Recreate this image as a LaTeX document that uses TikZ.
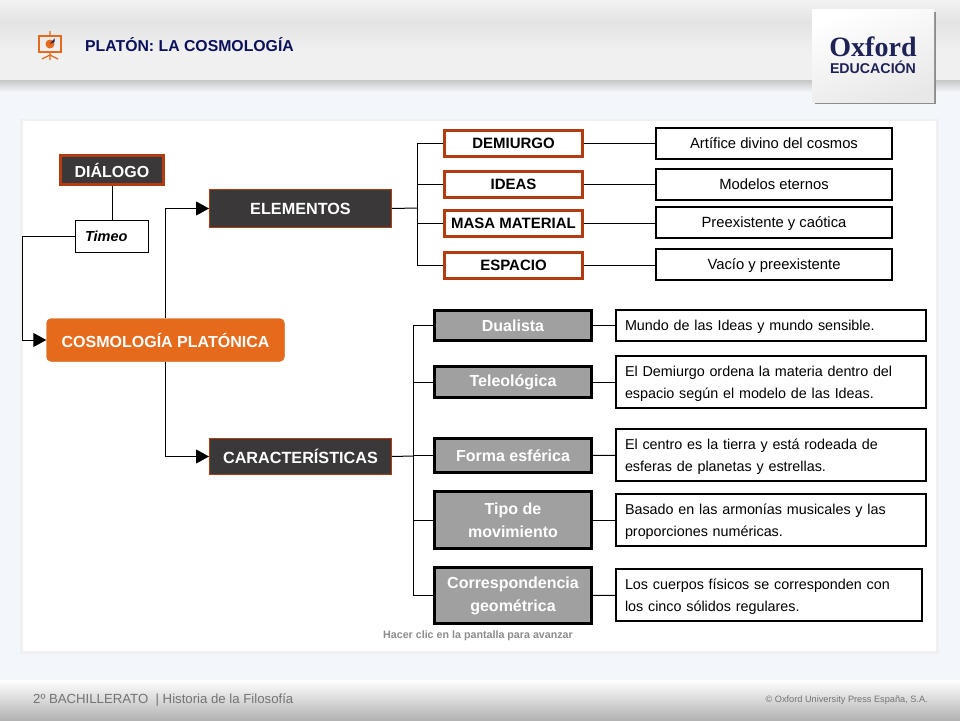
\documentclass[tikz,border=0pt]{standalone}
\usepackage{fontspec}
\setmainfont{Liberation Sans}
\newfontfamily\logofont{Liberation Serif}
\usepackage{tikz}
\usetikzlibrary{
    positioning,           % Relative positioning
    arrows.meta,           % Modern arrow tips
    calc                   % Coordinate calculations
}
\definecolor{PanelBlue}{RGB}{243,246,250}
\definecolor{BrickRed}{RGB}{178,60,16}
\definecolor{DarkBox}{RGB}{58,56,56}
\definecolor{OrangeBox}{RGB}{230,106,28}
\definecolor{GrayBox}{RGB}{160,160,160}
\definecolor{TitleBlue}{RGB}{10,16,90}
\definecolor{LogoBlue}{RGB}{30,34,84}
\tikzset{dialog box/.style={
    rectangle,
    draw=BrickRed,
    line width=3pt,
    fill=DarkBox,
    text=white,
    font=\bfseries\fontsize{16}{16}\selectfont,
    minimum width=103pt,
    minimum height=29pt,
    inner sep=0pt
}}
\tikzset{section box/.style={
    rectangle,
    draw=BrickRed,
    line width=1pt,
    fill=DarkBox,
    text=white,
    font=\bfseries\fontsize{16.2}{16.2}\selectfont,
    minimum width=182pt,
    inner sep=0pt
}}
\tikzset{element box/.style={
    rectangle,
    draw=BrickRed,
    line width=2.6pt,
    fill=white,
    text=black,
    font=\bfseries\fontsize{15}{15}\selectfont,
    minimum width=138.5pt,
    minimum height=26.5pt,
    inner sep=0pt
}}
\tikzset{trait box/.style={
    rectangle,
    draw=black,
    line width=3pt,
    fill=GrayBox,
    text=white,
    align=center,
    font=\bfseries\fontsize{16}{23}\selectfont,
    minimum width=157pt,
    inner sep=0pt
}}
\tikzset{text box/.style={
    rectangle,
    draw=black,
    line width=2pt,
    fill=white,
    text=black,
    text height=13pt,
    text depth=3pt,
    font=\fontsize{14.8}{14.8}\selectfont,
    inner sep=0pt
}}
\tikzset{note box/.style={
    rectangle,
    draw=black,
    line width=2pt,
    fill=white,
    text=black,
    align=left,
    text width=292pt,
    font=\fontsize{14.35}{22}\selectfont,
    execute at begin node={\rule{0pt}{13.5pt}},
    inner sep=0pt
}}
\tikzset{link/.style={draw=black, line width=1pt}}
\tikzset{link arrow/.style={link, -{Triangle[length=13pt,width=14pt]}}}
\begin{document}
\begin{tikzpicture}[x=1pt,y=-1pt]
    \useasboundingbox (0,0) rectangle (960,720);
    % page background
    \fill[PanelBlue] (0,0) rectangle (960,720);
    \shade[top color=black!22, bottom color=PanelBlue] (0,80) rectangle (960,92);
    \shade[top color=black!5, bottom color=black!11] (0,0) rectangle (960,22);
    \shade[top color=black!11, bottom color=black!6] (0,22) rectangle (960,50);
    \fill[black!6] (0,50) rectangle (960,80);
    \shade[top color=white, bottom color=black!30] (0,680) rectangle (960,720);
    \fill[black!6] (20,119) rectangle (939,654);
    \fill[white] (23,121) rectangle (936,651);
    % logo
    \fill[black!45] (815,12) rectangle (936,104);
    \shade[top color=white, bottom color=black!9, shading angle=20] (812,9) rectangle (934,102);
    \node[anchor=base, font=\logofont\bfseries\fontsize{28}{28}\selectfont, text=LogoBlue, inner sep=0pt] (oxfordname) at (873,56.5) {Oxford};
    \node[anchor=base, font=\bfseries\fontsize{14.2}{14.2}\selectfont, text=LogoBlue, inner sep=0pt] (oxfordsub) at (873,73) {EDUCACIÓN};
    % icon
    \draw[OrangeBox, line width=1.2pt] (39,36) rectangle (61,52);
    \draw[OrangeBox, line width=1.2pt] (50,31) -- (50,36) (50,52) -- (50,60) (42,59) -- (50,55) -- (58,59);
    \fill[OrangeBox] (50,44) circle (4.5pt);
    \fill[LogoBlue] (50,44) -- (54.5,42) arc (-24:24:4.5pt) -- cycle;
    % titles
    \node[anchor=west, font=\bfseries\fontsize{15.8}{15.8}\selectfont, text=TitleBlue, inner sep=0pt] (title) at (85,45) {PLATÓN: LA COSMOLOGÍA};
    \node[anchor=west, font=\fontsize{13.2}{13.2}\selectfont, text=black!55, inner sep=0pt] (course) at (33,700) {2º BACHILLERATO\ \ | Historia de la Filosofía};
    \node[anchor=east, font=\fontsize{9.2}{9.2}\selectfont, text=black!55, inner sep=0pt] (press) at (928,700) {© Oxford University Press España, S.A.};
    \node[font=\bfseries\fontsize{10.7}{10.7}\selectfont, text=black!45, inner sep=0pt] (advance) at (478,636) {Hacer clic en la pantalla para avanzar};

    % left column
    \node[dialog box] (dialogo) at (112,170) {DIÁLOGO};
    \node[text box, font=\bfseries\itshape\fontsize{14.5}{14.5}\selectfont, line width=1pt, minimum width=73pt, minimum height=32pt, text width=54pt] (timeo) at (112,236.5) {Timeo};
    \node[rectangle, rounded corners=5pt, draw=OrangeBox!90!black, fill=OrangeBox, text=white, font=\bfseries\fontsize{16}{16}\selectfont, minimum width=238pt, minimum height=43pt, inner sep=0pt] (cosmologia) at (165.5,340) {COSMOLOGÍA PLATÓNICA};
    \node[section box, minimum height=38pt] (elementos) at (300.5,208.5) {ELEMENTOS};
    \node[section box, minimum height=36pt] (caracteristicas) at (300.5,456.5) {CARACTERÍSTICAS};

    % upper branch
    \node[element box] (demiurgo) at (513.5,143.5) {DEMIURGO};
    \node[element box] (ideas) at (513.5,184.5) {IDEAS};
    \node[element box] (masa) at (513.5,223.5) {MASA MATERIAL};
    \node[element box] (espacio) at (513.5,265.5) {ESPACIO};
    \node[text box, minimum width=236pt, minimum height=31pt] (artifice) at (774,143.5) {Artífice divino del cosmos};
    \node[text box, minimum width=236pt, minimum height=31pt] (modelos) at (774,184.5) {Modelos eternos};
    \node[text box, minimum width=236pt, minimum height=31pt] (preexistente) at (774,222.5) {Preexistente y caótica};
    \node[text box, minimum width=236pt, minimum height=31pt] (vacio) at (774,264.5) {Vacío y preexistente};

    % lower branch
    \node[trait box, minimum height=30pt] (dualista) at (513,325.5) {Dualista};
    \node[trait box, minimum height=31pt] (teleologica) at (513,382) {Teleológica};
    \node[trait box, minimum height=34pt] (forma) at (513,455.5) {Forma esférica};
    \node[trait box, minimum height=57pt] (tipo) at (513,520) {Tipo de\\movimiento};
    \node[trait box, minimum height=56pt] (correspondencia) at (513,595.5) {Correspondencia\\geométrica};
    \node[note box, minimum width=310pt, minimum height=31pt] (mundo) at (771,325.5) {Mundo de las Ideas y mundo sensible.};
    \node[note box, minimum width=310pt, minimum height=52pt] (demiurgonote) at (771,382) {El Demiurgo ordena la materia dentro del\\espacio según el modelo de las Ideas.};
    \node[note box, minimum width=310pt, minimum height=52pt] (centro) at (771,455) {El centro es la tierra y está rodeada de\\esferas de planetas y estrellas.};
    \node[note box, minimum width=310pt, minimum height=52pt] (basado) at (771,520) {Basado en las armonías musicales y las\\proporciones numéricas.};
    \node[note box, minimum width=306pt, minimum height=52pt, text width=288pt] (cuerpos) at (769,595) {Los cuerpos físicos se corresponden con\\los cinco sólidos regulares.};

    % connectors
    \coordinate (upper trunk) at (417,208);
    \coordinate (lower trunk) at (413,456);
    \draw[link] (dialogo) -- (timeo);
    \draw[link arrow] (timeo.west) -- (22,236.5) |- (cosmologia.west);
    \draw[link arrow] (cosmologia.north) |- (elementos.west);
    \draw[link arrow] (cosmologia.south) |- (caracteristicas.west);
    \draw[link] (elementos.east) -- (upper trunk);
    \draw[link] (caracteristicas.east) -- (lower trunk);
    \draw[link] (demiurgo.west) -| (upper trunk);
    \draw[link] (ideas.west) -| (upper trunk);
    \draw[link] (masa.west) -| (upper trunk);
    \draw[link] (espacio.west) -| (upper trunk);
    \draw[link] (dualista.west) -| (lower trunk);
    \draw[link] (teleologica.west) -| (lower trunk);
    \draw[link] (forma.west) -| (lower trunk);
    \draw[link] (tipo.west) -| (lower trunk);
    \draw[link] (correspondencia.west) -| (lower trunk);
    \draw[link] (demiurgo) -- (artifice);
    \draw[link] (ideas) -- (modelos);
    \draw[link] (masa.east) -- (masa.east -| preexistente.west);
    \draw[link] (espacio.east) -- (espacio.east -| vacio.west);
    \draw[link] (dualista) -- (mundo);
    \draw[link] (teleologica) -- (demiurgonote);
    \draw[link] (forma) -- (centro);
    \draw[link] (tipo) -- (basado);
    \draw[link] (correspondencia) -- (cuerpos);
\end{tikzpicture}
\end{document}
